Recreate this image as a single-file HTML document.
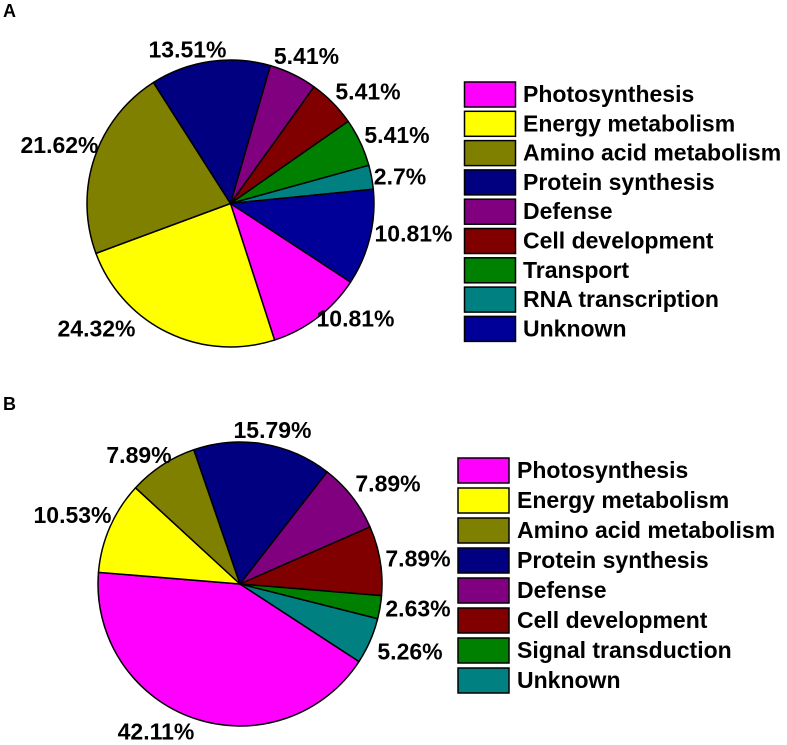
<!DOCTYPE html>
<html><head><meta charset="utf-8"><style>
html,body{margin:0;padding:0;background:#fff;}
svg{display:block;font-family:"Liberation Sans",Arial,sans-serif;font-weight:bold;}
</style></head><body>
<svg id="chart" width="787" height="745" viewBox="0 0 787 745">
<text x="3" y="17" font-size="18">A</text>
<text x="3" y="410" font-size="18">B</text>
<g id="pieA"></g>
<g id="pieB"></g>
<g id="legA"></g>
<g id="legB"></g>
</svg>
<script>
const categoriesA = ["Photosynthesis","Energy metabolism","Amino acid metabolism","Protein synthesis","Defense","Cell development","Transport","RNA transcription","Unknown"];
const valuesA = [10.81,24.32,21.62,13.51,5.41,5.41,5.41,2.7,10.81];
const labelsA = ["10.81%","24.32%","21.62%","13.51%","5.41%","5.41%","5.41%","2.7%","10.81%"];
const colorsA = ["#ff00ff","#ffff00","#808000","#000080","#800080","#800000","#008000","#008080","#000099"];
const categoriesB = ["Photosynthesis","Energy metabolism","Amino acid metabolism","Protein synthesis","Defense","Cell development","Signal transduction","Unknown"];
const valuesB = [42.11,10.53,7.89,15.79,7.89,7.89,2.63,5.26];
const labelsB = ["42.11%","10.53%","7.89%","15.79%","7.89%","7.89%","2.63%","5.26%"];
const colorsB = ["#ff00ff","#ffff00","#808000","#000080","#800080","#800000","#008000","#008080"];
// label layout (positions, not data)
const labelPosA = [[355.5,318.5],[96.5,328.5],[59.5,145],[187.5,49.5],[306.5,56],[368,91.5],[397,135],[400,176.5],[413.5,233.5]];
const labelPosB = [[156,731.5],[72.5,515],[139,455],[272.5,430],[388,483.5],[418,558.5],[418,608.5],[410,651.5]];

const NS = "http://www.w3.org/2000/svg";
function mk(tag, attrs, parent){
  const e = document.createElementNS(NS, tag);
  for (const k in attrs) e.setAttribute(k, attrs[k]);
  parent.appendChild(e);
  return e;
}
function drawPie(g, cx, cy, r, startDeg, vals, labels, colors, cats, pos){
  const total = vals.reduce((a,b)=>a+b,0);
  let a = startDeg*Math.PI/180;
  vals.forEach((v,i)=>{
    const span = v/total*2*Math.PI;
    const a2 = a+span;
    const x1 = cx+r*Math.cos(a), y1 = cy+r*Math.sin(a);
    const x2 = cx+r*Math.cos(a2), y2 = cy+r*Math.sin(a2);
    const large = span>Math.PI?1:0;
    const p = mk("path",{d:`M${cx},${cy} L${x1},${y1} A${r},${r} 0 ${large} 1 ${x2},${y2} Z`,fill:colors[i],stroke:"#000","stroke-width":"1.5","stroke-linejoin":"round"},g);
    
    
    a = a2;
  });
  labels.forEach((t,i)=>{
    const tx = mk("text",{x:pos[i][0],y:pos[i][1]+8,"font-size":"23","text-anchor":"middle",fill:"#000"},g);
    tx.textContent = t;
    
    
  });
}
function drawLegend(g, x, y0, pitch, tx, cats, colors){
  cats.forEach((c,i)=>{
    const y = y0 + i*pitch;
    const rc = mk("rect",{x:x,y:y,width:51,height:25,fill:colors[i],stroke:"#000","stroke-width":"1.5"},g);
    
    
    const t = mk("text",{x:tx,y:y+20,"font-size":"23",fill:"#000"},g);
    t.textContent = c;
    
    
  });
}
drawPie(document.getElementById("pieA"), 230.5, 203.5, 143.5, 33.2, valuesA, labelsA, colorsA, categoriesA, labelPosA);
drawPie(document.getElementById("pieB"), 240, 584, 142, 33.1, valuesB, labelsB, colorsB, categoriesB, labelPosB);
drawLegend(document.getElementById("legA"), 464.5, 82, 29.3, 523, categoriesA, colorsA);
drawLegend(document.getElementById("legB"), 458, 458, 30, 517, categoriesB, colorsB);
</script>
</body></html>
